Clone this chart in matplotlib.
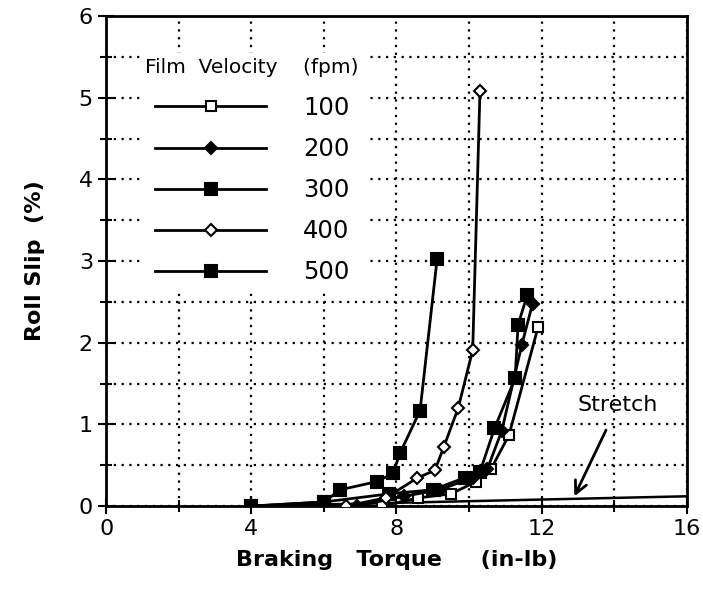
import numpy as np
import matplotlib
matplotlib.use('Agg')
import matplotlib.pyplot as plt
from matplotlib.ticker import MultipleLocator

# Data ------------------------------------------------------------------------

x100 = [4.0, 7.6, 8.6, 9.5, 10.2, 10.6, 11.1, 11.9]
y100 = [0.0, 0.0, 0.10, 0.15, 0.30, 0.45, 0.87, 2.19]

x200 = [4.0, 6.9, 8.2, 9.2, 10.1, 10.5, 10.9, 11.45, 11.75]
y200 = [0.0, 0.0, 0.12, 0.20, 0.35, 0.45, 0.92, 1.97, 2.48]

x300 = [4.0, 6.0, 7.8, 9.0, 9.9, 10.3, 10.7, 11.27, 11.35, 11.6]
y300 = [0.0, 0.05, 0.15, 0.20, 0.35, 0.42, 0.95, 1.57, 2.22, 2.58]

x400 = [4.0, 6.6, 7.7, 8.56, 9.06, 9.3, 9.7, 10.1, 10.3]
y400 = [0.0, 0.0, 0.10, 0.34, 0.44, 0.72, 1.2, 1.91, 5.08]

x500 = [4.0, 6.0, 6.45, 7.46, 7.9, 8.1, 8.65, 9.12]
y500 = [0.0, 0.05, 0.20, 0.30, 0.40, 0.65, 1.17, 3.03]

x_stretch = [4.0, 8.0, 12.0, 16.0]
y_stretch = [0.0, 0.04, 0.08, 0.12]

labels = ['100', '200', '300', '400', '500']

# Figure ----------------------------------------------------------------------

fig = plt.figure(figsize=(7.03, 5.94), dpi=100)
ax = fig.add_axes([0.151, 0.148, 0.826, 0.825])

kw = dict(color='black', lw=2, mew=1.5, zorder=3)
ax.plot(x100, y100, '-s', ms=7, mfc='white', mec='black', label=labels[0], **kw)
ax.plot(x200, y200, '-D', ms=6, mfc='black', mec='black', label=labels[1], **kw)
ax.plot(x300, y300, '-s', ms=8, mfc='black', mec='black', label=labels[2], **kw)
ax.plot(x400, y400, '-D', ms=6, mfc='white', mec='black', label=labels[3], **kw)
ax.plot(x500, y500, '-s', ms=9, mfc='black', mec='black', label=labels[4], **kw)

ax.plot(x_stretch, y_stretch, color='black', lw=1.8, zorder=2)
ax.annotate('Stretch', xy=(12.9, 0.12), xytext=(13.0, 1.24),
            fontsize=16, ha='left', va='center',
            arrowprops=dict(arrowstyle='->', color='black', lw=2,
                            mutation_scale=22, shrinkA=10, shrinkB=0))

ax.set_xlim(0, 16)
ax.set_ylim(0, 6)
ax.xaxis.set_major_locator(MultipleLocator(4))
ax.xaxis.set_minor_locator(MultipleLocator(2))
ax.yaxis.set_major_locator(MultipleLocator(1))
ax.yaxis.set_minor_locator(MultipleLocator(0.5))
ax.tick_params(which='both', direction='inout', width=1.5, labelsize=16,
               top=False, right=False)
ax.tick_params(which='major', length=12)
ax.tick_params(which='minor', length=8)
ax.grid(which='both', color='black', linestyle=(0, (1, 2.5)), lw=1.6)
for s in ax.spines.values():
    s.set_linewidth(2)

ax.set_xlabel('Braking   Torque     (in-lb)', fontsize=16, fontweight='bold',
              labelpad=8)
ax.set_ylabel('Roll Slip  (%)', fontsize=16, fontweight='bold', labelpad=24)

leg = ax.legend(title='Film  Velocity    (fpm)', loc='upper left',
                bbox_to_anchor=(0.038, 0.95), frameon=True, fancybox=False,
                edgecolor='white', facecolor='white', framealpha=1,
                handlelength=4.6, handletextpad=1.5, labelspacing=0.7,
                fontsize=17.5, title_fontsize=14.5, borderpad=0.2)
leg._legend_box.sep = 14

fig.savefig('out.png', dpi=100)
